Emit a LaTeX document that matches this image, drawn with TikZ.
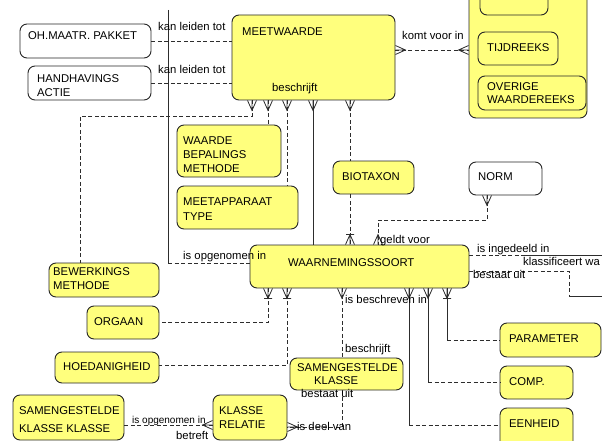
\documentclass[tikz,border=0pt]{standalone}
\usepackage{fontspec}
\setmainfont{Liberation Sans}
\definecolor{entfill}{RGB}{255,255,125}
\definecolor{linegray}{RGB}{45,45,45}
\begin{document}
\begin{tikzpicture}[x=1pt,y=-1pt,
  ent/.style={draw=black!85, line width=0.9pt, fill=entfill, rounded corners=7pt, inner sep=0pt},
  extent/.style={ent, fill=white},
  txt/.style={anchor=base west, inner sep=0pt, font=\fontsize{11.3}{13}\selectfont},
  smalltxt/.style={txt, font=\fontsize{10}{12}\selectfont},
  rel/.style={draw=linegray, line width=0.8pt, dash pattern=on 4pt off 2.5pt},
  relsolid/.style={draw=linegray, line width=0.8pt},
  crowfoot/.pic={\draw[relsolid] (-4.5,0) -- (0,10) -- (4.5,0) (0,0) -- (0,10);},
  crowbar/.pic={\draw[relsolid] (-4.5,0) -- (0,10) -- (4.5,0) (0,0) -- (0,10) (-4,10) -- (4,10);},
]
\useasboundingbox (0,0) rectangle (602,441);
\clip (0,0) rectangle (602,441);

% ---------- entities ----------
\node[extent, minimum width=131pt, minimum height=34pt] (ohm)  at (85.5,41) {};
\node[extent, minimum width=123pt, minimum height=34pt] (hand) at (89.5,83) {};
\node[ent, minimum width=163pt, minimum height=85pt] (meet) at (313.5,57.5) {};
\node[ent, minimum width=118pt, minimum height=138pt] (big) at (528,49) {};
\node[ent, minimum width=68pt, minimum height=35pt] (topin) at (514,-2.5) {};
\node[ent, minimum width=80pt, minimum height=33pt] (tijd) at (518,48.5) {};
\node[ent, minimum width=108pt, minimum height=34pt] (over) at (532,93) {};
\node[ent, minimum width=104pt, minimum height=52pt] (wbm) at (229,151) {};
\node[ent, minimum width=121pt, minimum height=43pt] (mat) at (237.5,207.5) {};
\node[ent, minimum width=81pt, minimum height=33pt] (bio) at (373.5,177.5) {};
\node[extent, minimum width=73pt, minimum height=33pt] (norm) at (505.5,178.5) {};
\node[ent, minimum width=219pt, minimum height=43pt] (waarn) at (359.5,266.5) {};
\node[ent, minimum width=110pt, minimum height=34pt] (bew) at (104,280) {};
\node[ent, minimum width=72pt, minimum height=33pt] (org) at (123,322.5) {};
\node[ent, minimum width=104pt, minimum height=31pt] (hoed) at (107,367.5) {};
\node[ent, minimum width=113pt, minimum height=32pt] (skl) at (346.5,374) {};
\node[ent, minimum width=111pt, minimum height=45pt] (skk) at (68.5,417.5) {};
\node[ent, minimum width=74pt, minimum height=45pt] (krel) at (250,417.5) {};
\node[ent, minimum width=101pt, minimum height=34pt] (par) at (550.5,340) {};
\node[ent, minimum width=73pt, minimum height=33pt] (comp) at (536.5,382.5) {};
\node[ent, minimum width=73pt, minimum height=40pt] (eenh) at (536.5,428) {};

% ---------- relationships ----------
\coordinate (topend) at (168,10);
\coordinate (eastA) at (602,255);
\coordinate (eastB) at (602,296);

\draw[rel] (ohm.east) -- (ohm.east -| meet.west);
\draw[rel] (hand.east) -- (hand.east -| meet.west);
\draw[rel] (meet.east |- 0,50) -- (big.west |- 0,50);

\draw[rel] (meet.south -| 252,0) -- (252,116) -| (bew.north -| 80,0);
\draw[rel] (meet.south -| 268,0) -- (wbm.north -| 268,0);
\draw[rel] (meet.south -| 287,0) -- (mat.north -| 287,0);
\draw[relsolid] (meet.south -| 313,0) -- (waarn.north -| 313,0);
\draw[rel] (meet.south -| 350,0) -- (bio.north -| 350,0);
\draw[rel] (bio.south -| 350,0) -- (waarn.north -| 350,0);
\draw[rel] (norm.south -| 487,0) -- (487,220) -| (waarn.north -| 378,0);

\draw[relsolid] (topend) -- (168,263);
\draw[rel] (168,263) -- (waarn.west |- 0,263);

\draw[rel] (waarn.east |- 0,255) -- (523,255);
\draw[relsolid] (523,255) -- (eastA);
\draw[rel] (waarn.east |- 0,271) -- (569,271) -- (569,296);
\draw[relsolid] (569,296) -- (eastB);

\draw[rel] (waarn.south -| 268,0) |- (org.east);
\draw[rel] (waarn.south -| 287,0) |- (hoed.east |- 0,365);
\draw[rel] (waarn.south -| 342,0) -- (skl.north -| 342,0);
\draw[rel] (skl.south -| 342,0) |- (krel.east |- 0,427);
\draw[rel] (skk.east |- 0,425) -- (krel.west |- 0,425);

\draw[relsolid] (waarn.south -| 447,0) -- (447,340);
\draw[rel] (447,340) -- (par.west);
\draw[relsolid] (waarn.south -| 428,0) -- (428,382);
\draw[rel] (428,382) -- (comp.west |- 0,382);
\draw[relsolid] (waarn.south -| 409,0) -- (409,425);
\draw[rel] (409,425) -- (eenh.west |- 0,425);

% ---------- cardinality marks ----------
\foreach \x in {252,268,287,313,350} \pic at (meet.south -| \x,0) {crowfoot};
\pic[rotate=90] at (meet.east |- 0,50) {crowfoot};
\pic[rotate=-90] at (big.west |- 0,50) {crowfoot};
\pic at (norm.south -| 487,0) {crowfoot};
\pic[rotate=180] at (waarn.north -| 378,0) {crowfoot};
\pic[rotate=180] at (waarn.north -| 350,0) {crowbar};
\foreach \x in {268,287,447} \pic at (waarn.south -| \x,0) {crowbar};
\foreach \x in {342,409,428} \pic at (waarn.south -| \x,0) {crowfoot};
\pic[rotate=90] at (krel.east |- 0,427) {crowfoot};
\pic[rotate=-90] at (krel.west |- 0,425) {crowfoot};

% ---------- entity names ----------
\node[txt] (t-ohm) at (28,40) {OH.MAATR. PAKKET};
\node[txt] (t-hand1) at (37,83) {HANDHAVINGS};
\node[txt] (t-hand2) at (37,97) {ACTIE};
\node[txt] (t-meet) at (242,36) {MEETWAARDE};
\node[txt] (t-tijd) at (487,52) {TIJDREEKS};
\node[txt] (t-over1) at (487,91) {OVERIGE};
\node[txt] (t-over2) at (487,104) {WAARDEREEKS};
\node[txt] (t-wbm1) at (183,144) {WAARDE};
\node[txt] (t-wbm2) at (183,158) {BEPALINGS};
\node[txt] (t-wbm3) at (183,172) {METHODE};
\node[txt] (t-mat1) at (183,205) {MEETAPPARAAT};
\node[txt] (t-mat2) at (183,220) {TYPE};
\node[txt] (t-bio) at (342,180) {BIOTAXON};
\node[txt] (t-norm) at (478,180) {NORM};
\node[txt] (t-waarn) at (288,266) {WAARNEMINGSSOORT};
\node[txt] (t-bew1) at (53,275) {BEWERKINGS};
\node[txt] (t-bew2) at (53,289) {METHODE};
\node[txt] (t-org) at (94,325) {ORGAAN};
\node[txt] (t-hoed) at (63,370) {HOEDANIGHEID};
\node[txt] (t-skl1) at (297,371) {SAMENGESTELDE};
\node[txt] (t-skl2) at (314,384) {KLASSE};
\node[txt] (t-skk1) at (19,414) {SAMENGESTELDE};
\node[txt] (t-skk2) at (19,432) {KLASSE KLASSE};
\node[txt] (t-krel1) at (219,414) {KLASSE};
\node[txt] (t-krel2) at (219,428) {RELATIE};
\node[txt] (t-par) at (509,342) {PARAMETER};
\node[txt] (t-comp) at (509,385) {COMP.};
\node[txt] (t-eenh) at (509,427) {EENHEID};

% ---------- relationship labels ----------
\node[txt] (l1) at (158,31) {kan leiden tot};
\node[txt] (l2) at (158,74) {kan leiden tot};
\node[txt] (l3) at (402,40) {komt voor in};
\node[txt] (l4) at (272,92) {beschrijft};
\node[txt] (l5) at (183,259) {is opgenomen in};
\node[txt] (l6) at (380,243) {geldt voor};
\node[txt] (l7) at (477,252) {is ingedeeld in};
\node[txt] (l8) at (523,265) {klassificeert wa};
\node[txt] (l9) at (473,278) {bestaat uit};
\node[txt] (l10) at (345,303) {is beschreven in};
\node[txt] (l11) at (345,352) {beschrijft};
\node[txt] (l12) at (301,397) {bestaat uit};
\node[txt] (l13) at (297,430) {is deel van};
\node[smalltxt] (l14) at (132,423) {is opgenomen in};
\node[txt] (l15) at (176,439) {betreft};
\end{tikzpicture}
\end{document}
